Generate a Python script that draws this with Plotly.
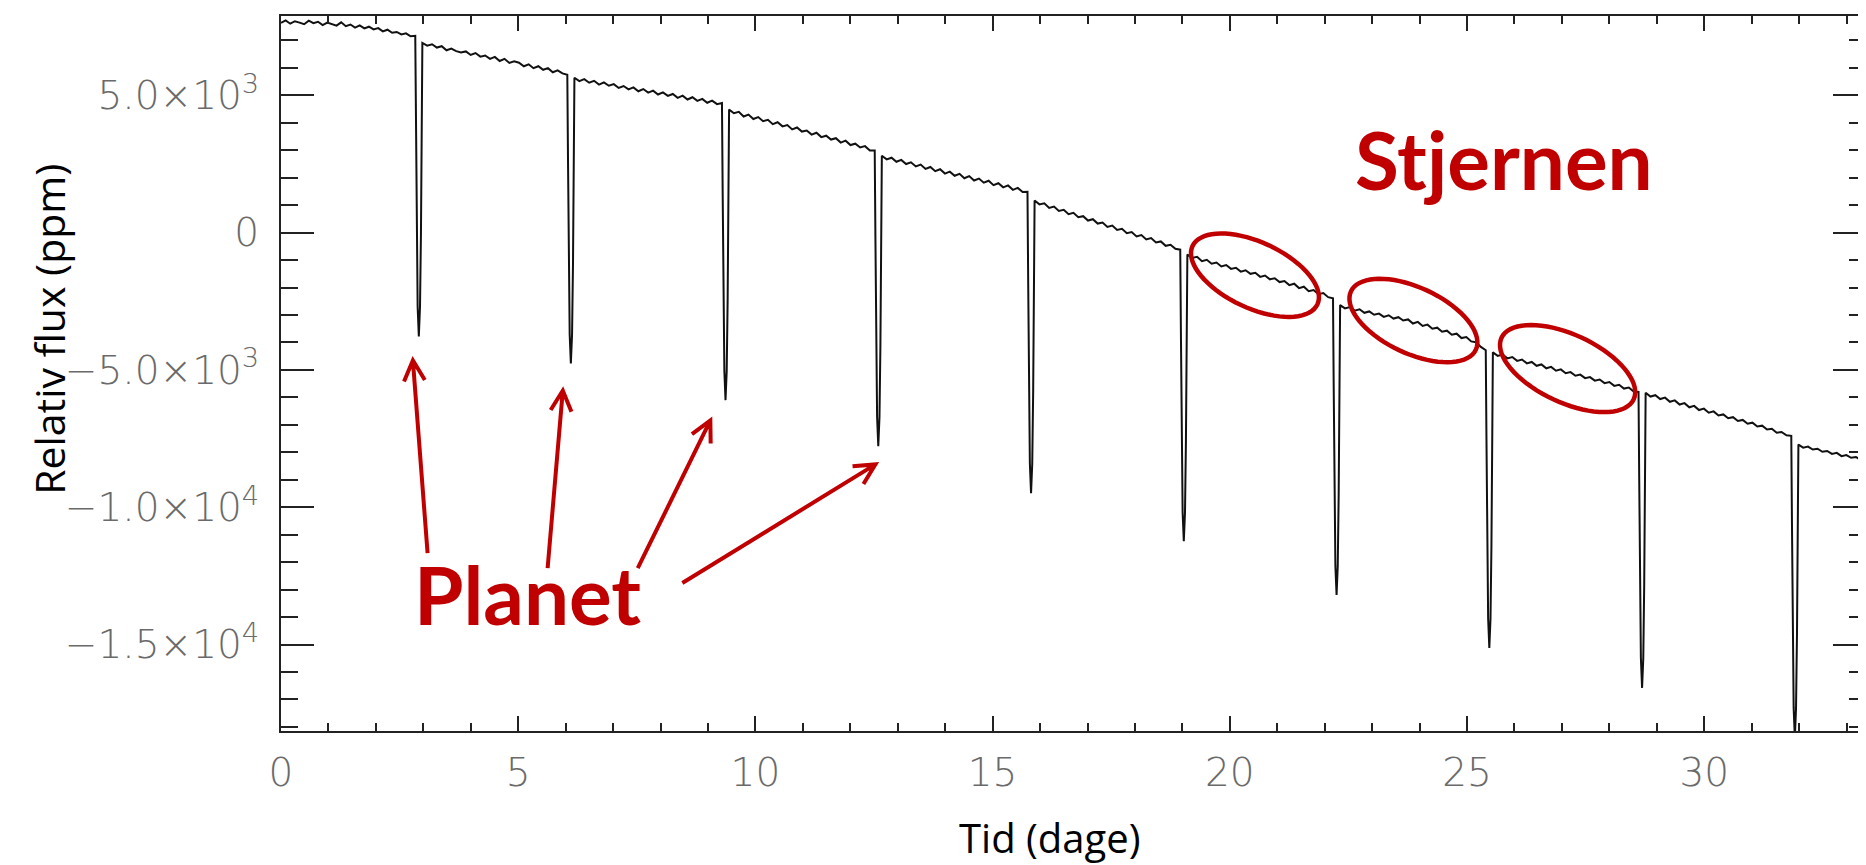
import math
import numpy as np
import plotly.graph_objects as go

# ---------------- data ----------------
transit_time = [2.905, 6.11, 9.37, 12.59, 15.81, 19.03, 22.25, 25.47, 28.69, 31.91]
transit_bottom = [-3780, -4760, -6100, -7780, -9490, -11240, -13200, -15130, -16580, -18400]
# transit profile (offset in days, fraction of depth), read from the dip shape
profile_dt = [-0.06, -0.045, -0.025, 0.0, 0.025, 0.045, 0.06]
profile_frac = [0.3, 0.65, 0.9, 1.0, 0.9, 0.65, 0.3]

seg_start = [0.0, 2.98, 6.185, 9.445, 12.665, 15.885, 19.105, 22.325, 25.545, 28.765, 31.985]
seg_end = [2.83, 6.035, 9.295, 12.515, 15.735, 18.955, 22.175, 25.395, 28.615, 31.835, 33.40]
seg_flux = [
    [7640, 7730, 7610, 7700, 7650, 7590, 7720, 7630, 7680, 7560, 7650, 7600, 7540, 7660, 7520,
     7580, 7470, 7550, 7440, 7500, 7400, 7450, 7330, 7390, 7280, 7310, 7220, 7260, 7150, 7170],
    [6910, 6810, 6860, 6740, 6790, 6640, 6700, 6610, 6560, 6600, 6470, 6540, 6410, 6450, 6330, 6400,
     6250, 6330, 6180, 6240, 6190, 6060, 6130, 5990, 6060, 5930, 5990, 5840, 5910, 5800, 5750],
    [5640, 5520, 5590, 5460, 5530, 5390, 5470, 5350, 5410, 5270, 5340, 5220, 5290, 5150, 5230, 5100,
     5170, 5030, 5110, 4980, 5050, 4910, 4990, 4850, 4930, 4800, 4870, 4730, 4810, 4680, 4720],
    [4480, 4350, 4400, 4230, 4300, 4140, 4210, 4060, 4110, 3950, 4020, 3870, 3920, 3760, 3830, 3680,
     3720, 3570, 3640, 3480, 3530, 3390, 3440, 3280, 3350, 3190, 3240, 3100, 3150, 2990, 2990],
    [2800, 2670, 2730, 2580, 2650, 2500, 2560, 2410, 2480, 2320, 2390, 2240, 2310, 2150, 2220, 2070,
     2140, 1980, 2060, 1900, 1970, 1820, 1890, 1730, 1800, 1650, 1720, 1560, 1630, 1480, 1490],
    [1170, 1030, 1070, 900, 950, 790, 830, 670, 720, 560, 600, 440, 490, 330, 370, 210,
     260, 100, 140, -20, 20, -140, -90, -250, -200, -360, -320, -480, -440, -590, -620],
    [-800, -920, -880, -1040, -990, -1130, -1090, -1230, -1180, -1320, -1280, -1420, -1370, -1500, -1460, -1610,
     -1560, -1700, -1660, -1800, -1760, -1910, -1860, -2020, -1970, -2130, -2090, -2240, -2200, -2350, -2390],
    [-2640, -2760, -2710, -2840, -2790, -2920, -2870, -2990, -2950, -3070, -3010, -3130, -3080, -3200, -3160, -3310,
     -3250, -3400, -3350, -3500, -3460, -3610, -3570, -3720, -3680, -3840, -3800, -3960, -3990, -4160, -4280],
    [-4360, -4490, -4440, -4580, -4530, -4670, -4620, -4760, -4710, -4850, -4800, -4940, -4890, -5030, -4980, -5120,
     -5080, -5210, -5170, -5300, -5260, -5390, -5350, -5480, -5440, -5580, -5540, -5680, -5640, -5790, -5800],
    [-5830, -5970, -5920, -6060, -6010, -6160, -6110, -6260, -6210, -6360, -6310, -6460, -6410, -6560, -6510, -6660,
     -6620, -6760, -6720, -6860, -6820, -6960, -6920, -7060, -7030, -7170, -7140, -7290, -7260, -7380, -7400],
    [-7720, -7830, -7790, -7900, -7870, -7980, -7950, -8060, -8020, -8140, -8100, -8200, -8170, -8280, -8330],
]

y_tick_vals = [5000, 0, -5000, -10000, -15000]
y_tick_text = ["5.0\u00d710<sup>3</sup>", "0", "\u22125.0\u00d710<sup>3</sup>",
               "\u22121.0\u00d710<sup>4</sup>", "\u22121.5\u00d710<sup>4</sup>"]
x_tick_vals = [0, 5, 10, 15, 20, 25, 30]
x_tick_text = ["0", "5", "10", "15", "20", "25", "30"]

x_title = "Tid (dage)"
y_title = "Relativ flux (ppm)"
label_planet = "Planet"
label_star = "Stjernen"

# annotation geometry (data coordinates)
arrow_tail = [(3.09, -11670), (5.62, -12220), (7.52, -12220), (8.46, -12760)]
arrow_tip = [(2.78, -4650), (5.94, -5750), (9.05, -6840), (12.53, -8440)]
ellipse_center = [(20.53, -1550), (23.87, -3200), (27.12, -4950)]
ellipse_axes_px = [(69, 33), (69, 33), (73, 34)]
ellipse_tilt_deg = [25, 25, 25]

# ---------------- build the light curve ----------------
xs, ys = [], []
for k in range(len(seg_flux)):
    vals = seg_flux[k]
    t = np.linspace(seg_start[k], seg_end[k], len(vals))
    xs.extend(t.tolist())
    ys.extend(vals)
    if k < len(transit_time):
        pre = seg_flux[k][-1]
        post = seg_flux[k + 1][0]
        for dt, fr in zip(profile_dt, profile_frac):
            level = pre if dt < 0 else post
            xs.append(transit_time[k] + dt)
            ys.append(level + (transit_bottom[k] - level) * fr)

# ---------------- layout constants ----------------
W, H = 1866, 865
ML, MR, MT, MB = 273, 6, 7, 142
XR = [0, 33.41]
YR = [-18150, 7890]
pw = W - ML - MR
ph = H - MT - MB
px_per_day = pw / (XR[1] - XR[0])
px_per_ppm = ph / (YR[1] - YR[0])

RED = "#C00000"

fig = go.Figure()
fig.add_trace(go.Scatter(x=xs, y=ys, mode="lines",
                         line=dict(color="#111111", width=2),
                         hoverinfo="skip", showlegend=False))

shapes = []
# arrows with open chevron heads
for (tx, ty), (hx, hy) in zip(arrow_tail, arrow_tip):
    dxp = (tx - hx) * px_per_day
    dyp = -(ty - hy) * px_per_ppm
    n = math.hypot(dxp, dyp)
    ux, uy = dxp / n, dyp / n
    arms = []
    for sgn in (1, -1):
        a = math.radians(27) * sgn
        rx = ux * math.cos(a) - uy * math.sin(a)
        ry = ux * math.sin(a) + uy * math.cos(a)
        L = 23
        arms.append((hx + rx * L / px_per_day, hy - ry * L / px_per_ppm))
    path = (f"M {tx},{ty} L {hx},{hy} M {arms[0][0]},{arms[0][1]} "
            f"L {hx},{hy} L {arms[1][0]},{arms[1][1]}")
    shapes.append(dict(type="path", path=path, xref="x", yref="y",
                       line=dict(color=RED, width=4), layer="above"))

# tilted ellipses
for (cx, cy), (a, b), th in zip(ellipse_center, ellipse_axes_px, ellipse_tilt_deg):
    t = math.radians(th)
    pts = []
    for i in range(73):
        ph_ = 2 * math.pi * i / 72
        xp = a * math.cos(ph_) * math.cos(t) - b * math.sin(ph_) * math.sin(t)
        yp = a * math.cos(ph_) * math.sin(t) + b * math.sin(ph_) * math.cos(t)
        pts.append((cx + xp / px_per_day, cy - yp / px_per_ppm))
    path = "M " + " L ".join(f"{x:.4f},{y:.2f}" for x, y in pts) + " Z"
    shapes.append(dict(type="path", path=path, xref="x", yref="y",
                       line=dict(color=RED, width=4.5), layer="above"))

annotations = [
    dict(text=label_planet, x=5.2, y=-13150, xref="x", yref="y", showarrow=False,
         font=dict(family="Lato", size=80, color=RED, weight="bold"),
         xanchor="center", yanchor="middle"),
    dict(text=label_star, x=25.78, y=2700, xref="x", yref="y", showarrow=False,
         font=dict(family="Lato", size=80, color=RED, weight="bold"),
         xanchor="center", yanchor="middle"),
    dict(text=x_title, x=(1042 - ML) / pw, y=-(830 - (H - MB)) / ph, xref="paper", yref="paper",
         showarrow=False, font=dict(family="Open Sans", size=40, color="black"),
         xanchor="center", yanchor="middle"),
    dict(text=y_title, x=(40 - ML) / pw, y=((H - MB) - 321) / ph, xref="paper", yref="paper",
         showarrow=False, textangle=-90, font=dict(family="Open Sans", size=41, color="black"),
         xanchor="center", yanchor="middle"),
]

tickfont = dict(family="DejaVu Sans", size=39, color="#6a6a6a", weight=200)

fig.update_layout(
    width=W, height=H, autosize=False,
    margin=dict(l=ML, r=MR, t=MT, b=MB, pad=0),
    paper_bgcolor="white", plot_bgcolor="white",
    shapes=shapes, annotations=annotations, showlegend=False,
    xaxis=dict(range=XR, showgrid=False, zeroline=False,
               showline=True, linecolor="#222222", linewidth=2, mirror="ticks",
               ticks="inside", ticklen=15, tickwidth=1.5, tickcolor="#222222",
               tickvals=x_tick_vals, ticktext=x_tick_text, tickfont=tickfont,
               ticklabelstandoff=6,
               minor=dict(dtick=1, ticks="inside", ticklen=8, tickwidth=1.5, tickcolor="#222222")),
    yaxis=dict(range=YR, showgrid=False, zeroline=False,
               showline=True, linecolor="#222222", linewidth=2, mirror="ticks",
               ticks="inside", ticklen=33, tickwidth=1.5, tickcolor="#222222",
               tickvals=y_tick_vals, ticktext=y_tick_text, tickfont=tickfont,
               ticklabelstandoff=12,
               minor=dict(dtick=1000, ticks="inside", ticklen=17, tickwidth=1.5, tickcolor="#222222")),
)

fig.write_html("out.html")
